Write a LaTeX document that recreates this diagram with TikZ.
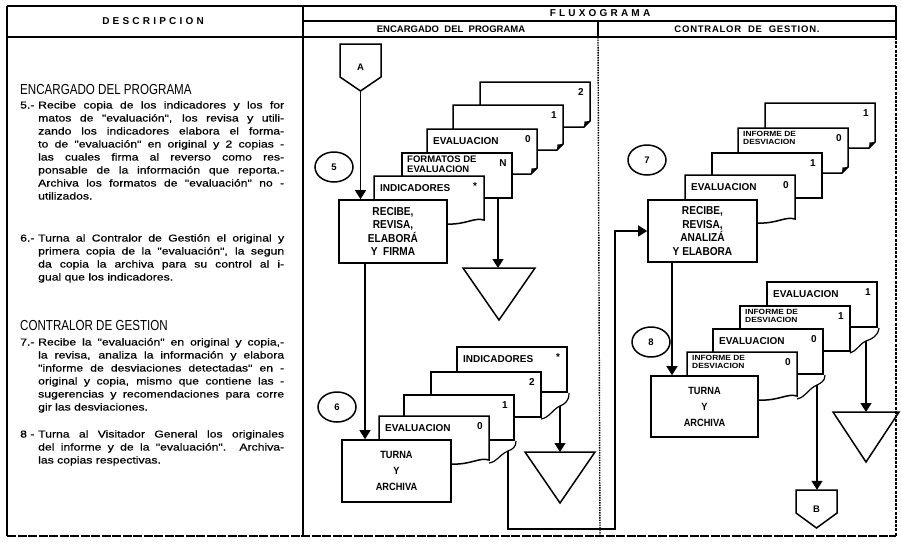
\documentclass[tikz,border=0pt]{standalone}
\usepackage{fontspec}
\setmainfont{Liberation Sans}
\newfontfamily\handfont{Liberation Sans}[FakeStretch=1.22,FakeBold=0.6]
\newfontfamily\headfont{Liberation Sans}[FakeStretch=0.8]
\newfontfamily\boxfont{Liberation Sans}[FakeStretch=0.88]
\newfontfamily\tagfont{Liberation Sans}[FakeStretch=1.12]
\newfontfamily\capsfont{Liberation Sans}[LetterSpace=32]
\newfontfamily\capsmid{Liberation Sans}[LetterSpace=8]
\usetikzlibrary{shapes.geometric,arrows.meta,calc}

% justified line of the description column
\newlength\linew
\setlength\linew{246pt}
\newcommand\jl[1]{\makebox[\linew][s]{#1}}

% outlines of one sheet of a document stack (local coordinates, 110 x 45)
\newcommand\dkcurl{%
  \draw[docline] (0,0) -- (110,0) -- (110,39) -- (104,45) -- (0,45) -- cycle;
  \fill (110,39) -- (104,45) -- (104.5,39.5) -- cycle;}
\newcommand\dkplain{\draw[docline] (0,0) rectangle (110,45);}
\newcommand\dkwave{%
  \draw[docline] (0,0) -- (110,0) -- (110,44)
    .. controls (100,41) and (92,49) .. (72,48) -- (0,48) -- cycle;}

% sheet with a title and a copy number
\newcommand\docfig[7]{%
  \begin{scope}[shift={(#2,#3)}]
    \csname dk#4\endcsname
    \node[#7] (#1) at (6,12) {#5};
    \node[docnum] (#1n) at (101,10) {#6};
  \end{scope}}
% sheet with a copy number only
\newcommand\docbare[5]{%
  \begin{scope}[shift={(#2,#3)}]
    \csname dk#4\endcsname
    \node[docnum] (#1) at (101,10) {#5};
  \end{scope}}

\begin{document}
\begin{tikzpicture}[x=1pt,y=-1pt,
  frame/.style={line width=1.2pt},
  hdr/.style={inner sep=0pt,font=\bfseries\fontsize{9.5}{10}\selectfont},
  body/.style={anchor=base west,inner sep=0pt,font=\handfont\fontsize{10}{13}\selectfont},
  heading/.style={anchor=base west,inner sep=0pt,font=\headfont\fontsize{14.5}{15}\selectfont},
  proc/.style={draw,line width=1.6pt,fill=white,align=center,inner sep=0pt},
  stepmark/.style={draw,ellipse,line width=1.5pt,minimum width=38pt,minimum height=30pt,
    inner sep=0pt,font=\bfseries\fontsize{9.5}{10}\selectfont},
  docline/.style={line width=1.5pt,fill=white,line join=miter},
  doclabel/.style={anchor=west,inner sep=0pt,font=\bfseries\fontsize{10}{10}\selectfont},
  doclabeltwo/.style={anchor=north west,align=left,inner sep=0pt,xshift=-1pt,yshift=9pt,
    font=\bfseries\fontsize{9.5}{10}\selectfont},
  doclabelsmall/.style={anchor=north west,align=left,inner sep=0pt,xshift=-1pt,yshift=9pt,
    font=\tagfont\bfseries\fontsize{7.5}{8.5}\selectfont},
  docnum/.style={inner sep=0pt,font=\bfseries\fontsize{10}{10}\selectfont},
  shapeline/.style={line width=1.5pt,line join=miter},
  wig/.style={line width=1.2pt},
  flow/.style={line width=1.2pt,-{Triangle[width=11pt,length=9pt]}},
  conn/.style={inner sep=0pt,minimum width=41pt,font=\bfseries\fontsize{9.5}{10}\selectfont}]

\useasboundingbox (0,0) rectangle (901,544);
\fill[white] (0,0) rectangle (901,544);

% ---------- form frame ----------
\draw[frame] (7,6) -- (896,6);
\draw[line width=2pt] (7,6) -- (7,536);
\draw[frame,dash pattern=on 9pt off 1.5pt] (7,536) -- (896,536);
\draw[frame] (896,6) -- (896,37);
\draw[frame,dash pattern=on 3pt off 1.2pt] (896,37) -- (896,536);
\draw[frame] (303,6) -- (303,536);
\draw[frame] (7,37) -- (896,37);
\draw[frame] (303,21) -- (896,21);
\draw[frame] (598,21) -- (598,37);
\draw[line width=1.4pt,dash pattern=on 1.6pt off 0.9pt] (598,37) -- (600,536);

\node[hdr,font=\capsfont\bfseries\fontsize{10}{10}\selectfont] (hDesc) at (153,21.5) {DESCRIPCION};
\node[hdr,font=\capsfont\bfseries\fontsize{10}{10}\selectfont] (hFlux) at (600,13.5) {FLUXOGRAMA};
\node[hdr] (hEnc) at (451,29.5) {ENCARGADO\ \ DEL\ \ PROGRAMA};
\node[hdr,font=\capsmid\bfseries\fontsize{9.5}{10}\selectfont] (hCon) at (747,29.5) {CONTRALOR\ \ DE\ \ GESTION.};

% ---------- description column ----------
\node[heading] (hd1) at (20,94) {ENCARGADO DEL PROGRAMA};
\node[body] (n5) at (20,108.5) {5.-};
\node[body] (l5a) at (38,108.5) {\jl{Recibe copia de los indicadores y los for}};
\node[body] (l5b) at (38,121.5) {\jl{matos de "evaluación", los revisa y utili-}};
\node[body] (l5c) at (38,134.5) {\jl{zando los indicadores elabora el forma-}};
\node[body] (l5d) at (38,147.5) {\jl{to de "evaluación" en original y 2 copias -}};
\node[body] (l5e) at (38,160.5) {\jl{las cuales firma al reverso como res-}};
\node[body] (l5f) at (38,173.5) {\jl{ponsable de la información que reporta.-}};
\node[body] (l5g) at (38,186.5) {\jl{Archiva los formatos de "evaluación" no -}};
\node[body] (l5h) at (38,199.5) {utilizados.};

\node[body] (n6) at (20,241.5) {6.-};
\node[body] (l6a) at (38,241.5) {\jl{Turna al Contralor de Gestión el original y}};
\node[body] (l6b) at (38,254.5) {\jl{primera copia de la "evaluación", la segun}};
\node[body] (l6c) at (38,267.5) {\jl{da copia la archiva para su control al i-}};
\node[body] (l6d) at (38,280.5) {gual que los indicadores.};

\node[heading] (hd2) at (20,330) {CONTRALOR DE GESTION};
\node[body] (n7) at (20,345.5) {7.-};
\node[body] (l7a) at (38,345.5) {\jl{Recibe la "evaluación" en original y copia,-}};
\node[body] (l7b) at (38,358.5) {\jl{la revisa, analiza la información y elabora}};
\node[body] (l7c) at (38,371.5) {\jl{"informe de desviaciones detectadas" en -}};
\node[body] (l7d) at (38,384.5) {\jl{original y copia, mismo que contiene las -}};
\node[body] (l7e) at (38,397.5) {\jl{sugerencias y recomendaciones para corre}};
\node[body] (l7f) at (38,410.5) {gir las desviaciones.};

\node[body] (n8) at (20,437.5) {8 -};
\node[body] (l8a) at (38,437.5) {\jl{Turna al Visitador General los originales}};
\node[body] (l8b) at (38,450.5) {\jl{del informe y de la "evaluación". Archiva-}};
\node[body] (l8c) at (38,463.5) {las copias respectivas.};

% ---------- ENCARGADO DEL PROGRAMA lane ----------
% off-page connector A
\draw[shapeline] (340,44) -- (381,44) -- (381,77) -- (360.5,91) -- (340,77) -- cycle;
\node[conn,minimum height=47pt] (conA) at (360.5,67.5) {A};

% documents received in step 5
\docbare{d12}{480}{82}{curl}{2}
\docbare{d11}{453}{105}{curl}{1}
\docfig{d10}{427}{129}{curl}{EVALUACION}{0}{doclabel}
\docfig{d1n}{402}{153}{plain}{FORMATOS DE\\EVALUACION}{N}{doclabeltwo}
\docfig{d1i}{374}{176}{wave}{INDICADORES}{*}{doclabel}

\node[proc,minimum width=108pt,minimum height=63pt,
  font=\boxfont\bfseries\fontsize{11.5}{13.5}\selectfont] (p5) at (393,231.5)
  {RECIBE,\\REVISA,\\ELABORÁ\\Y\ \ FIRMA};
\node[stepmark] (c5) at (334,167) {5};

% archive after step 5
\coordinate (d1nb) at (498,197);
\coordinate (t1) at (499,268);
\draw[shapeline] ($(t1)+(-36,0)$) -- ($(t1)+(36,0)$) -- ($(t1)+(0,52)$) -- cycle;

% documents handled in step 6
\docfig{d2i}{457}{347}{plain}{INDICADORES}{*}{doclabel}
\docbare{d22}{431}{372}{plain}{2}
\docbare{d21}{404}{395}{plain}{1}
\docfig{d20}{379}{416}{wave}{EVALUACION}{0}{doclabel}
\draw[wig] (569,393) .. controls (569,401) and (565,404) .. (560,406) coordinate (s1)
  .. controls (553,409) and (549,418) .. (541,419);
\draw[wig] (516,441) .. controls (516,447) and (513,449) .. (508,451) coordinate (s2)
  .. controls (499,455) and (497,462) .. (489,463);

\node[proc,minimum width=109pt,minimum height=62pt,
  font=\boxfont\bfseries\fontsize{10.5}{16}\selectfont] (p6) at (396.5,471)
  {TURNA\\Y\\ARCHIVA};
\node[stepmark] (c6) at (337,407) {6};

\coordinate (t2) at (560,452);
\draw[shapeline] ($(t2)+(-35,0)$) -- ($(t2)+(35,0)$) -- ($(t2)+(0,51)$) -- cycle;

% ---------- CONTRALOR DE GESTION lane ----------
\docbare{d31}{765}{103}{curl}{1}
\docfig{d30}{738}{128}{curl}{INFORME DE\\DESVIACION}{0}{doclabelsmall}
\docbare{d3b}{712}{153}{plain}{1}
\docfig{d3a}{685}{175}{wave}{EVALUACION}{0}{doclabel}

\node[proc,minimum width=109pt,minimum height=62pt,
  font=\boxfont\bfseries\fontsize{11.5}{13.5}\selectfont] (p7) at (702.5,231)
  {RECIBE,\\REVISA,\\ANALIZÁ\\Y ELABORA};
\node[stepmark] (c7) at (647,160) {7};

\docfig{d41}{767}{282}{plain}{EVALUACION}{1}{doclabel}
\docfig{d40b}{740}{306}{plain}{INFORME DE\\DESVIACION}{1}{doclabelsmall}
\docfig{d40a}{713}{329}{plain}{EVALUACION}{0}{doclabel}
\docfig{d40}{687}{352}{wave}{INFORME DE\\DESVIACION}{0}{doclabelsmall}
\draw[wig] (879,328) .. controls (878,336) and (872,339) .. (866,341) coordinate (s3)
  .. controls (859,344) and (857,351) .. (850,353);
\draw[wig] (825,375) .. controls (825,381) and (821,383) .. (817,385) coordinate (s4)
  .. controls (808,389) and (806,397) .. (797,399);

\node[proc,minimum width=107pt,minimum height=61pt,
  font=\boxfont\bfseries\fontsize{10.5}{16}\selectfont] (p8) at (704.5,406.5)
  {TURNA\\Y\\ARCHIVA};
\node[stepmark] (c8) at (651,342) {8};

\coordinate (t3) at (866,412);
\draw[shapeline] ($(t3)+(-33,0)$) -- ($(t3)+(33,0)$) -- ($(t3)+(0,50)$) -- cycle;

% off-page connector B
\draw[shapeline] (796,490) -- (837,490) -- (837,513) -- (816.5,528) -- (796,513) -- cycle;
\node[conn,minimum height=38pt] (conB) at (816.5,509) {B};

% ---------- flow lines ----------
\coordinate (loopB) at (615,529);
\draw[flow] (conA.south) -- (conA.south |- p5.north);
\draw[flow] ([xshift=-28pt]p5.south) -- ([xshift=-28pt]p5.south |- p6.north);
\draw[flow] (d1nb) -- (d1nb |- t1);
\draw[flow] (s1) -- (s1 |- t2);
\draw[flow] (s2) |- (loopB) |- (p7.west);
\draw[flow] ([xshift=-30.5pt]p7.south) -- ([xshift=-30.5pt]p7.south |- p8.north);
\draw[flow] (s3) -- (s3 |- t3);
\draw[flow] (s4) -- (s4 |- conB.north);
\end{tikzpicture}
\end{document}
